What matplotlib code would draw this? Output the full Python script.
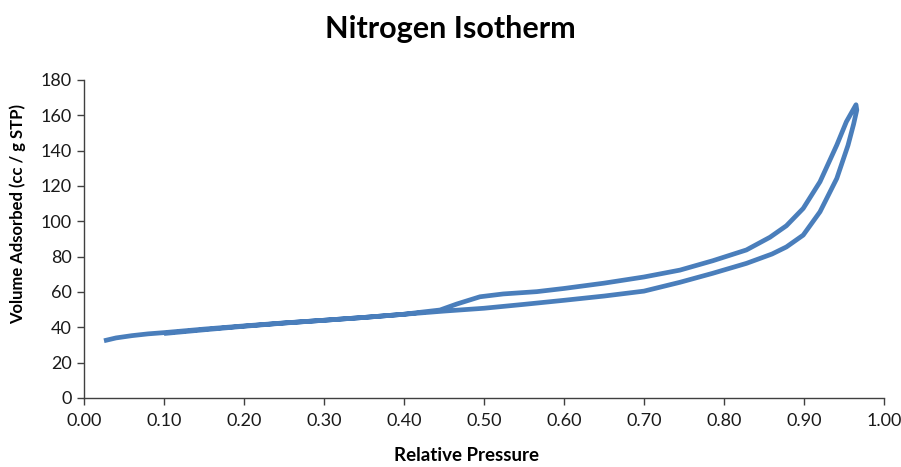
import matplotlib
matplotlib.use("Agg")
import matplotlib.pyplot as plt

plt.rcParams['font.family'] = ['Lato', 'DejaVu Sans']

# adsorption branch (increasing pressure)
p_ads = [0.025, 0.04, 0.06, 0.08, 0.10, 0.15, 0.20, 0.25, 0.30, 0.35, 0.40,
         0.45, 0.50, 0.55, 0.60, 0.65, 0.70, 0.745, 0.786, 0.828, 0.86,
         0.878, 0.899, 0.92, 0.941, 0.955, 0.962, 0.966]
v_ads = [32.4, 34.0, 35.3, 36.3, 37.0, 39.0, 40.8, 42.5, 44.0, 45.6, 47.4,
         49.2, 50.8, 53.0, 55.3, 57.7, 60.5, 65.5, 70.6, 76.2, 81.5,
         85.5, 92.2, 105.4, 124.3, 143.0, 155.0, 163.0]

# desorption branch (decreasing pressure)
p_des = [0.965, 0.960, 0.953, 0.941, 0.92, 0.899, 0.878, 0.8575, 0.828,
         0.786, 0.745, 0.70, 0.65, 0.60, 0.566, 0.524, 0.495, 0.466, 0.445,
         0.42, 0.40, 0.35, 0.30, 0.25, 0.20, 0.15, 0.10]
v_des = [166.0, 162.0, 156.4, 143.2, 122.4, 107.3, 97.5, 91.0, 83.8,
         77.7, 72.4, 68.5, 65.0, 62.0, 60.2, 58.9, 57.3, 53.2, 49.8,
         48.5, 47.4, 45.6, 44.0, 42.4, 40.6, 38.6, 36.5]

xticks = [i / 10 for i in range(11)]
yticks = list(range(0, 181, 20))

fig = plt.figure(figsize=(9.01, 4.67), dpi=100)
ax = fig.add_axes([84 / 901, 69 / 467, 800 / 901, 318 / 467])

line_col = '#4A7EBB'
ax.plot(p_ads + p_des, v_ads + v_des, color=line_col, lw=3.4,
        solid_capstyle='butt', solid_joinstyle='round')

ax.set_xlim(0, 1.0)
ax.set_ylim(0, 180)
ax.set_xticks(xticks)
ax.set_xticklabels(['%.2f' % t for t in xticks])
ax.set_yticks(yticks)

for s in ['top', 'right']:
    ax.spines[s].set_visible(False)
for s in ['left', 'bottom']:
    ax.spines[s].set_color('#404040')
    ax.spines[s].set_linewidth(1.0)
ax.tick_params(direction='out', length=5, width=1, color='#404040',
               labelsize=13, labelcolor='#1a1a1a', pad=6)
ax.tick_params(axis='y', pad=4)

ax.set_xlabel('Relative Pressure', fontsize=13.5, fontweight='bold')
ax.xaxis.set_label_coords(0.4775, -0.155)
ax.set_ylabel('Volume Adsorbed (cc / g STP)', fontsize=12, fontweight='bold')
ax.yaxis.set_label_coords(-0.0725, 0.58)
fig.suptitle('Nitrogen Isotherm', fontsize=22, fontweight='bold', y=0.968)

fig.savefig('out.png', dpi=100)
